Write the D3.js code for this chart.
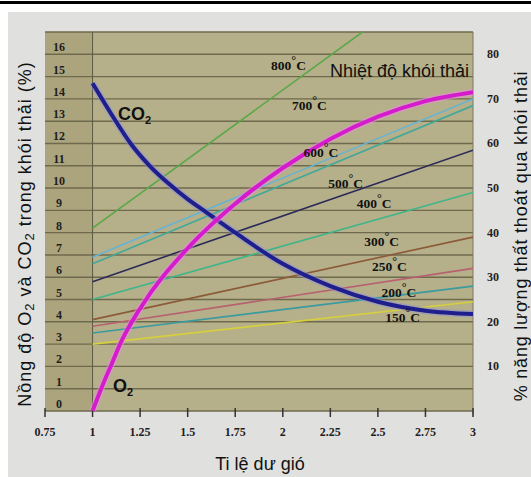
<!DOCTYPE html>
<html lang="vi">
  <head>
    <meta charset="utf-8">
    <title>Nhiệt độ khói thải</title>
    <script src="https://cdn.jsdelivr.net/npm/d3@7"></script>
    <style>
      body { margin: 0; background: #fff; }
      .tick-num { font-family: 'Liberation Serif', serif; font-weight: bold; font-size: 12px; fill: #1e1e1e; }
      .title { font-family: 'Liberation Sans', Arial, sans-serif; font-size: 18px; fill: #111; }
      .temp { font-family: 'Liberation Serif', serif; font-weight: bold; font-size: 13.5px; fill: #111; }
    </style>
  </head>

  <body>
    <script>
      // x: ti le du gio (lambda)
      var xTicks = [0.75, 1, 1.25, 1.5, 1.75, 2, 2.25, 2.5, 2.75, 3]
      var xTickLabels = ['0.75', '1', '1.25', '1.5', '1.75', '2', '2.25', '2.5', '2.75', '3']
      var leftTicks = [0, 1, 2, 3, 4, 5, 6, 7, 8, 9, 10, 11, 12, 13, 14, 15, 16]
      var rightTicks = [10, 20, 30, 40, 50, 60, 70, 80]

      // O2 and CO2 concentration (%), left axis
      var o2Lambda = [1, 1.05, 1.1, 1.15, 1.25, 1.5, 1.75, 2, 2.25, 2.5, 2.75, 3]
      var o2Values = [0, 1.1, 2.1, 3.1, 4.6, 7.3, 9.3, 10.9, 12.2, 13.2, 13.9, 14.3]
      var co2Lambda = [1, 1.1, 1.2, 1.3, 1.4, 1.5, 1.6, 1.75, 2, 2.25, 2.5, 2.75, 3]
      var co2Values = [14.7, 13.3, 12.0, 11.0, 10.2, 9.5, 8.9, 8.0, 6.6, 5.6, 4.9, 4.5, 4.35]

      // % energy lost with flue gas, right axis, at lambda = 1 and lambda = 3
      var temps = ['800', '700', '600', '500', '400', '300', '250', '200', '150']
      var lossAt1 = [41, 34.5, 33, 29, 25, 20.5, 19, 17.5, 15]
      var lossAt3 = [103, 70, 68.5, 58.5, 49, 39, 32, 28, 24.5]
      var tempColors = ['#58a848', '#66b4d4', '#40a898', '#2b2b5a', '#3fb58a', '#8c5a38', '#b86070', '#3a9aa0', '#d6cf3e']

      // where the temperature labels sit (lambda, % loss)
      var labelLambda = [2.03, 2.14, 2.2, 2.33, 2.48, 2.52, 2.56, 2.61, 2.63]
      var labelLoss = [76.5, 67.5, 57, 50, 45.5, 37, 31.4, 25.6, 20]

      var W = 531, H = 477
      var pLeft = 45, pRight = 473, pTop = 32, pBottom = 411

      var svg = d3.select('body').append('svg').attr('width', W).attr('height', H)

      // frame
      svg.append('rect').attr('x', 0).attr('y', 1).attr('width', W).attr('height', 3).attr('fill', '#000')
      svg.append('rect').attr('x', 8).attr('y', 12).attr('width', W - 8).attr('height', H - 12).attr('fill', '#e0e0de')

      var x = d3.scaleLinear().domain([0.75, 3]).range([pLeft, pRight])
      var yL = d3.scaleLinear().domain([0, 17]).range([pBottom, pTop])
      var yR = d3.scaleLinear().domain([0, 85]).range([pBottom, pTop])

      svg.append('defs').append('clipPath').attr('id', 'plot')
        .append('rect').attr('x', pLeft).attr('y', pTop).attr('width', pRight - pLeft).attr('height', pBottom - pTop)

      // plot background
      svg.append('rect').attr('x', pLeft).attr('y', pTop).attr('width', pRight - pLeft).attr('height', pBottom - pTop)
        .attr('fill', '#b5b089')
      svg.append('rect').attr('x', pLeft).attr('y', pTop).attr('width', x(1) - pLeft).attr('height', pBottom - pTop)
        .attr('fill', '#aba47d')

      // horizontal grid
      svg.append('g').selectAll('line').data(d3.range(0, 18)).enter().append('line')
        .attr('x1', pLeft).attr('x2', pRight)
        .attr('y1', function(d) { return yL(d) }).attr('y2', function(d) { return yL(d) })
        .attr('stroke', '#6f6a4e').attr('stroke-width', 1.4)

      svg.append('line').attr('x1', x(1)).attr('x2', x(1)).attr('y1', pTop).attr('y2', pBottom)
        .attr('stroke', '#5c5a44').attr('stroke-width', 1)
      svg.append('line').attr('x1', pRight).attr('x2', pRight).attr('y1', pTop).attr('y2', pBottom + 4)
        .attr('stroke', '#7a7760').attr('stroke-width', 1)

      // x ticks
      var xAxis = svg.append('g')
      xAxis.selectAll('line').data(xTicks).enter().append('line')
        .attr('x1', function(d) { return x(d) }).attr('x2', function(d) { return x(d) })
        .attr('y1', pBottom - 3).attr('y2', pBottom + 6)
        .attr('stroke', '#333').attr('stroke-width', 1.5)
      xAxis.selectAll('text').data(xTicks).enter().append('text')
        .attr('class', 'tick-num')
        .attr('x', function(d) { return x(d) }).attr('y', pBottom + 25)
        .attr('text-anchor', 'middle')
        .text(function(d, i) { return xTickLabels[i] })

      // left tick labels, drawn inside the plot
      svg.append('g').selectAll('text').data(leftTicks).enter().append('text')
        .attr('class', 'tick-num')
        .attr('x', pLeft + 14).attr('y', function(d) { return yL(d) - 3 })
        .attr('text-anchor', 'middle')
        .text(function(d) { return d })

      // right tick labels
      svg.append('g').selectAll('text').data(rightTicks).enter().append('text')
        .attr('class', 'tick-num')
        .attr('x', pRight + 20).attr('y', function(d) { return yR(d) + 4 })
        .attr('text-anchor', 'middle')
        .text(function(d) { return d })

      var plot = svg.append('g').attr('clip-path', 'url(#plot)')

      // temperature lines
      plot.selectAll('line.temp').data(temps).enter().append('line')
        .attr('class', 'temp')
        .attr('x1', x(1)).attr('x2', x(3))
        .attr('y1', function(d, i) { return yR(lossAt1[i]) })
        .attr('y2', function(d, i) { return yR(lossAt3[i]) })
        .attr('stroke', function(d, i) { return tempColors[i] })
        .attr('stroke-width', 1.6)

      var lineL = d3.line().curve(d3.curveMonotoneX)
        .x(function(d) { return x(d[0]) }).y(function(d) { return yL(d[1]) })

      var o2 = d3.zip(o2Lambda, o2Values)
      var co2 = d3.zip(co2Lambda, co2Values)

      // soft halo, then the curve itself
      plot.append('path').attr('d', lineL(co2)).attr('fill', 'none')
        .attr('stroke', '#8c8ce0').attr('stroke-width', 7).attr('opacity', 0.45)
      plot.append('path').attr('d', lineL(co2)).attr('fill', 'none')
        .attr('stroke', '#1e1e8c').attr('stroke-width', 4)
      plot.append('path').attr('d', lineL(o2)).attr('fill', 'none')
        .attr('stroke', '#f08ce8').attr('stroke-width', 7).attr('opacity', 0.5)
      plot.append('path').attr('d', lineL(o2)).attr('fill', 'none')
        .attr('stroke', '#d41ccc').attr('stroke-width', 4)

      // temperature labels
      var tl = svg.append('g').selectAll('text').data(temps).enter().append('text')
        .attr('class', 'temp')
        .attr('x', function(d, i) { return x(labelLambda[i]) })
        .attr('y', function(d, i) { return yR(labelLoss[i]) })
        .attr('text-anchor', 'middle')
      tl.append('tspan').text(function(d) { return d })
      tl.append('tspan').attr('dy', -6).attr('font-size', 12).text('°')
      tl.append('tspan').attr('dy', 6).text('C')

      svg.append('text').attr('class', 'title').attr('x', 330).attr('y', 77)
        .attr('font-size', 15).text('Nhiệt độ khói thải')

      // curve names
      var co2Name = svg.append('text').attr('class', 'title').attr('x', 118).attr('y', 120)
        .attr('font-size', 17).attr('font-weight', 'bold')
      co2Name.append('tspan').text('CO')
      co2Name.append('tspan').attr('dy', 4).attr('font-size', 11).text('2')
      var o2Name = svg.append('text').attr('class', 'title').attr('x', 113).attr('y', 392)
        .attr('font-size', 17).attr('font-weight', 'bold')
      o2Name.append('tspan').text('O')
      o2Name.append('tspan').attr('dy', 4).attr('font-size', 11).text('2')

      // axis titles
      svg.append('text').attr('class', 'title').attr('x', 260).attr('y', 470)
        .attr('text-anchor', 'middle').text('Ti lệ dư gió')

      var lt = svg.append('text').attr('class', 'title')
        .attr('transform', 'translate(31,234) rotate(-90)').attr('text-anchor', 'middle')
        .attr('font-size', 20).attr('letter-spacing', 1)
      lt.append('tspan').text('Nồng độ O')
      lt.append('tspan').attr('font-size', 13).attr('dy', 3).text('2')
      lt.append('tspan').attr('dy', -3).text(' và CO')
      lt.append('tspan').attr('font-size', 13).attr('dy', 3).text('2')
      lt.append('tspan').attr('dy', -3).text(' trong khói thải (%)')

      svg.append('text').attr('class', 'title')
        .attr('transform', 'translate(527,236) rotate(-90)').attr('text-anchor', 'middle')
        .attr('font-size', 20).attr('letter-spacing', 0.8)
        .text('% năng lượng thất thoát qua khói thải')
    </script>
  </body>
</html>
